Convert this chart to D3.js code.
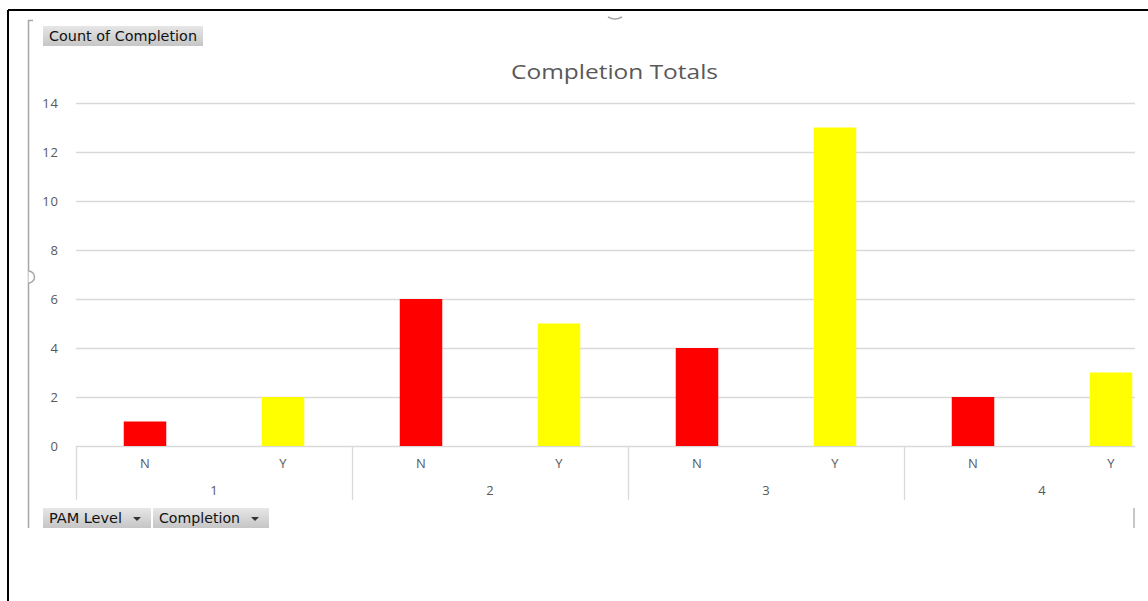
<!DOCTYPE html>
<html>
<head>
<meta charset="utf-8">
<script src="https://cdn.jsdelivr.net/npm/d3@7"></script>
<style>
  html, body { margin: 0; padding: 0; background: #fff; }
  svg { display: block; }
</style>
</head>
<body>
<svg id="chart" width="1148" height="601"></svg>
<script>
// PAM level groups and completion flags
const levels = ["1", "2", "3", "4"];
const completion = ["N", "Y"];
const countN = [1, 6, 4, 2];
const countY = [2, 5, 13, 3];
const yTicks = [0, 2, 4, 6, 8, 10, 12, 14];
const barColors = { N: "#ff0000", Y: "#ffff00" };

const rows = [];
levels.forEach((lvl, i) => {
  rows.push({ level: lvl, flag: "N", value: countN[i] });
  rows.push({ level: lvl, flag: "Y", value: countY[i] });
});

const svg = d3.select("#chart");
const W = 1148, H = 601;
const plot = { left: 76, top: 103, bottom: 446, right: 1135, groupW: 276 };
const textGray = "#595959";
const gridGray = "#d9d9d9";
const uiFont = "Tahoma, 'DejaVu Sans', Verdana, sans-serif";
const chartFont = "'Open Sans', 'Noto Sans', sans-serif";

// outer frame (top and left edge)
svg.append("line").attr("x1", 8).attr("x2", W).attr("y1", 10).attr("y2", 10)
  .attr("stroke", "#000").attr("stroke-width", 2);
svg.append("line").attr("x1", 8).attr("x2", 8).attr("y1", 10).attr("y2", H)
  .attr("stroke", "#000").attr("stroke-width", 2);

// chart-area selection bracket and handles
svg.append("path").attr("d", "M33,20.5 H28.5 V528")
  .attr("fill", "none").attr("stroke", "#a6a6a6").attr("stroke-width", 1.5);
svg.append("path").attr("d", "M28.5,271 A6,6 0 0 1 28.5,283")
  .attr("fill", "#fff").attr("stroke", "#a6a6a6").attr("stroke-width", 1.5);
svg.append("path").attr("d", "M608,17 Q615,21 622,17")
  .attr("fill", "none").attr("stroke", "#a6a6a6").attr("stroke-width", 1.5);
svg.append("line").attr("x1", 1134).attr("x2", 1134).attr("y1", 508).attr("y2", 528)
  .attr("stroke", "#c8c8c8").attr("stroke-width", 2);

// scales
const x0 = d3.scaleBand().domain(levels)
  .range([plot.left, plot.left + plot.groupW * levels.length]);
const x1 = d3.scaleBand().domain(completion).range([0, x0.bandwidth()])
  .paddingInner(0.692).paddingOuter(0.346);
const y = d3.scaleLinear().domain([0, 14]).range([plot.bottom, plot.top]);

svg.append("clipPath").attr("id", "plotClip").append("rect")
  .attr("x", 0).attr("y", 0).attr("width", plot.right).attr("height", H);

const g = svg.append("g").attr("clip-path", "url(#plotClip)");

// horizontal gridlines
g.append("g").selectAll("line").data(yTicks).join("line")
  .attr("x1", plot.left).attr("x2", plot.right)
  .attr("y1", d => Math.round(y(d)) + 0.5).attr("y2", d => Math.round(y(d)) + 0.5)
  .attr("stroke", gridGray).attr("stroke-width", 1.3);

// y tick labels
svg.append("g").selectAll("text").data(yTicks).join("text")
  .attr("x", 59).attr("y", d => y(d) + 4.5)
  .attr("text-anchor", "end")
  .attr("font-family", chartFont).attr("font-size", 13)
  .attr("letter-spacing", 1)
  .attr("fill", textGray).text(d => d);

// bars
g.append("g").selectAll("rect").data(rows).join("rect")
  .attr("x", d => x0(d.level) + x1(d.flag))
  .attr("width", x1.bandwidth())
  .attr("y", d => y(d.value))
  .attr("height", d => y(0) - y(d.value))
  .attr("fill", d => barColors[d.flag]);

// multi-level category axis: group separators
g.append("g").selectAll("line").data(levels).join("line")
  .attr("x1", d => Math.round(x0(d)) + 0.5).attr("x2", d => Math.round(x0(d)) + 0.5)
  .attr("y1", plot.bottom).attr("y2", 500)
  .attr("stroke", gridGray).attr("stroke-width", 1.3);

// inner labels (N / Y)
g.append("g").selectAll("text").data(rows).join("text")
  .attr("x", d => x0(d.level) + x1(d.flag) + x1.bandwidth() / 2)
  .attr("y", 468)
  .attr("text-anchor", "middle")
  .attr("font-family", chartFont).attr("font-size", 13)
  .attr("fill", textGray).text(d => d.flag);

// outer labels (PAM level)
g.append("g").selectAll("text").data(levels).join("text")
  .attr("x", d => x0(d) + x0.bandwidth() / 2)
  .attr("y", 495)
  .attr("text-anchor", "middle")
  .attr("font-family", chartFont).attr("font-size", 13)
  .attr("fill", textGray).text(d => d);

// title
svg.append("text").attr("x", 614.5).attr("y", 79)
  .attr("text-anchor", "middle")
  .attr("font-family", chartFont).attr("font-size", 20)
  .attr("textLength", 207).attr("lengthAdjust", "spacingAndGlyphs")
  .attr("fill", textGray).text("Completion Totals");

// pivot field buttons
const grad = svg.append("defs").append("linearGradient")
  .attr("id", "btnGrad").attr("x1", 0).attr("x2", 0).attr("y1", 0).attr("y2", 1);
grad.append("stop").attr("offset", "0%").attr("stop-color", "#e6e6e6");
grad.append("stop").attr("offset", "100%").attr("stop-color", "#c6c6c6");

function fieldButton(x, yTop, w, label, textW, dropdown) {
  const b = svg.append("g");
  b.append("rect").attr("x", x).attr("y", yTop).attr("width", w).attr("height", 20)
    .attr("fill", "url(#btnGrad)");
  b.append("text").attr("x", x + 6).attr("y", yTop + 15)
    .attr("font-family", uiFont).attr("font-size", 13.5)
    .attr("textLength", textW).attr("lengthAdjust", "spacingAndGlyphs")
    .attr("fill", "#111").text(label);
  if (dropdown) {
    const cx = x + w - 14;
    b.append("path")
      .attr("d", `M${cx - 4},${yTop + 9} L${cx + 4},${yTop + 9} L${cx},${yTop + 13} Z`)
      .attr("fill", "#333");
  }
}
fieldButton(43, 26, 160, "Count of Completion", 148, false);
fieldButton(43, 508, 108, "PAM Level", 73, true);
fieldButton(153, 508, 116, "Completion", 81, true);
</script>
</body>
</html>
